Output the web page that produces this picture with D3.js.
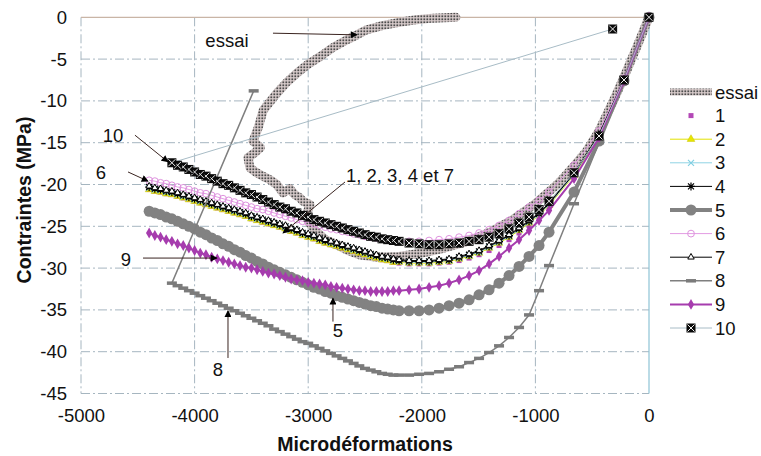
<!DOCTYPE html>
<html><head><meta charset="utf-8">
<script src="https://cdn.jsdelivr.net/npm/d3@7"></script>
<style>body{margin:0;background:#fff}svg{display:block;font-family:"Liberation Sans",Arial,Helvetica,sans-serif}</style>
</head><body><svg id="c" width="761" height="456"></svg>
<script>
// ---------- DATA ----------
const xTicks = [-5000,-4000,-3000,-2000,-1000,0];
const yTicks = [0,-5,-10,-15,-20,-25,-30,-35,-40,-45];

// shared strain sampling of the model curves (microdeformations)
const strain = [0,-220,-440,-660,-880,-968,-1056,-1144,-1232,-1320,-1408,-1496,-1584,-1672,-1760,-1848,-1936,-2024,-2112,-2200,
 -2250,-2300,-2350,-2400,-2450,-2500,-2550,-2600,-2650,-2700,-2750,-2800,-2850,-2900,-2950,-3000,-3050,-3100,-3150,-3200,
 -3250,-3300,-3350,-3400,-3450,-3500,-3550,-3600,-3650,-3700,-3750,-3800,-3850,-3900,-3950,-4000,-4050,-4100,-4150,-4200,
 -4250,-4300,-4350,-4400];

const s1 = [0,-7.6,-14.4,-19.1,-22.7,-23.9,-24.9,-25.8,-26.6,-27.3,-27.9,-28.4,-28.8,-29.1,-29.3,-29.4,-29.5,-29.5,-29.5,-29.4,
 -29.3,-29.1,-29.0,-28.8,-28.6,-28.4,-28.2,-28.0,-27.8,-27.6,-27.4,-27.2,-27.0,-26.8,-26.5,-26.3,-26.1,-25.8,-25.6,-25.3,
 -25.1,-24.9,-24.7,-24.5,-24.3,-24.1,-23.8,-23.6,-23.4,-23.2,-23.0,-22.8,-22.6,-22.4,-22.2,-22.0,-21.8,-21.6,-21.4,-21.2,
 -21.1,-20.9,-20.8,-20.6];
const s2 = [0,-7.6,-14.3,-18.9,-22.5,-23.7,-24.6,-25.5,-26.3,-27.0,-27.6,-28.2,-28.6,-28.9,-29.2,-29.3,-29.4,-29.4,-29.4,-29.3,
 -29.3,-29.1,-29.0,-28.8,-28.6,-28.4,-28.2,-28.0,-27.8,-27.6,-27.4,-27.2,-27.0,-26.8,-26.5,-26.3,-26.1,-25.8,-25.6,-25.3,
 -25.1,-24.9,-24.7,-24.5,-24.3,-24.1,-23.8,-23.6,-23.4,-23.2,-23.0,-22.8,-22.6,-22.4,-22.2,-22.0,-21.8,-21.6,-21.4,-21.2,
 -21.1,-20.9,-20.8,-20.6];
const s3 = [0,-7.5,-14.2,-18.8,-22.4,-23.6,-24.5,-25.4,-26.2,-26.9,-27.5,-28.1,-28.5,-28.8,-29.1,-29.2,-29.3,-29.3,-29.3,-29.2,
 -29.1,-28.9,-28.8,-28.6,-28.4,-28.2,-28.0,-27.8,-27.6,-27.4,-27.2,-27.0,-26.8,-26.6,-26.3,-26.1,-25.9,-25.6,-25.4,-25.1,
 -24.9,-24.7,-24.5,-24.3,-24.1,-23.9,-23.6,-23.4,-23.2,-23.0,-22.8,-22.6,-22.4,-22.2,-22.0,-21.8,-21.6,-21.4,-21.2,-21.0,
 -20.9,-20.7,-20.6,-20.4];
const s4 = [0,-7.5,-14.1,-18.7,-22.3,-23.5,-24.4,-25.3,-26.1,-26.8,-27.4,-28.0,-28.4,-28.7,-29.0,-29.1,-29.2,-29.2,-29.2,-29.1,
 -29.0,-28.8,-28.7,-28.5,-28.3,-28.1,-27.9,-27.7,-27.5,-27.3,-27.1,-26.9,-26.7,-26.5,-26.2,-26.0,-25.8,-25.5,-25.3,-25.0,
 -24.8,-24.6,-24.4,-24.2,-24.0,-23.8,-23.5,-23.3,-23.1,-22.9,-22.7,-22.5,-22.3,-22.1,-21.9,-21.7,-21.5,-21.3,-21.1,-20.9,
 -20.8,-20.6,-20.5,-20.3];
const s5 = [0,-7.6,-14.8,-20.9,-25.7,-27.3,-28.6,-29.8,-30.9,-31.8,-32.6,-33.2,-33.8,-34.2,-34.5,-34.8,-35.0,-35.1,-35.1,-35.1,
 -35.0,-34.9,-34.8,-34.6,-34.5,-34.3,-34.1,-33.9,-33.7,-33.5,-33.3,-33.0,-32.8,-32.5,-32.3,-32.0,-31.7,-31.4,-31.1,-30.8,
 -30.5,-30.2,-29.9,-29.5,-29.2,-28.8,-28.5,-28.1,-27.8,-27.4,-27.1,-26.7,-26.4,-26.0,-25.7,-25.3,-25.0,-24.7,-24.4,-24.1,
 -23.9,-23.6,-23.4,-23.2];
const s6 = [0,-7.3,-13.6,-17.7,-20.9,-21.9,-22.7,-23.5,-24.3,-24.9,-25.4,-25.8,-26.1,-26.3,-26.5,-26.6,-26.7,-26.8,-26.8,-26.8,
 -26.7,-26.6,-26.5,-26.4,-26.3,-26.2,-26.0,-25.9,-25.7,-25.6,-25.4,-25.3,-25.1,-24.9,-24.7,-24.5,-24.4,-24.2,-24.0,-23.8,
 -23.6,-23.4,-23.2,-23.0,-22.9,-22.7,-22.5,-22.3,-22.1,-21.9,-21.7,-21.5,-21.3,-21.1,-21.0,-20.8,-20.6,-20.4,-20.3,-20.1,
 -19.9,-19.8,-19.6,-19.5];
const s7 = [0,-7.4,-14.0,-18.6,-22.2,-23.4,-24.3,-25.2,-26.0,-26.7,-27.3,-27.9,-28.3,-28.6,-28.9,-29.0,-29.1,-29.1,-29.1,-29.0,
 -28.9,-28.7,-28.6,-28.4,-28.2,-28.0,-27.8,-27.6,-27.4,-27.2,-27.0,-26.8,-26.6,-26.4,-26.1,-25.9,-25.7,-25.4,-25.2,-24.9,
 -24.7,-24.5,-24.3,-24.1,-23.9,-23.7,-23.4,-23.2,-23.0,-22.8,-22.6,-22.4,-22.2,-22.0,-21.8,-21.6,-21.4,-21.2,-21.0,-20.8,
 -20.7,-20.5,-20.4,-20.2];
const s8 = [0,-7.7,-15.0,-22.3,-29.7,-32.7,-35.6,-37.1,-38.3,-39.3,-40.1,-40.8,-41.3,-41.8,-42.1,-42.4,-42.6,-42.7,-42.8,-42.8,
 -42.8,-42.7,-42.6,-42.4,-42.2,-42.0,-41.7,-41.4,-41.1,-40.8,-40.5,-40.2,-39.9,-39.6,-39.3,-39.0,-38.8,-38.5,-38.2,-37.9,
 -37.6,-37.3,-36.9,-36.6,-36.3,-36.0,-35.7,-35.4,-35.1,-34.8,-34.5,-34.2,-33.9,-33.6,-33.3,-33.0,-32.7,-32.4,-32.1,-31.8];
const s9 = [0,-7.6,-14.4,-19.3,-23.1,-24.3,-25.5,-26.6,-27.6,-28.6,-29.5,-30.3,-30.9,-31.4,-31.8,-32.1,-32.3,-32.5,-32.6,-32.7,
 -32.7,-32.8,-32.8,-32.8,-32.8,-32.7,-32.7,-32.6,-32.5,-32.4,-32.3,-32.2,-32.0,-31.9,-31.8,-31.7,-31.5,-31.4,-31.3,-31.1,
 -30.9,-30.7,-30.6,-30.4,-30.2,-30.0,-29.9,-29.7,-29.5,-29.3,-29.1,-28.9,-28.7,-28.4,-28.2,-27.9,-27.6,-27.3,-27.1,-26.8,
 -26.6,-26.3,-26.1,-25.8];
const s10 = [0,-7.5,-14.2,-18.6,-22.0,-23.0,-23.9,-24.6,-25.3,-25.9,-26.3,-26.6,-26.8,-27.0,-27.1,-27.2,-27.2,-27.1,-27.0,-26.8,
 -26.7,-26.6,-26.5,-26.3,-26.2,-26.0,-25.8,-25.6,-25.4,-25.2,-25.0,-24.8,-24.6,-24.4,-24.2,-23.9,-23.7,-23.4,-23.2,-22.9,
 -22.7,-22.4,-22.1,-21.8,-21.5,-21.2,-21.0,-20.7,-20.4,-20.1,-19.9,-19.6,-19.3,-19.0,-18.8,-18.5,-18.2,-17.9,-17.7,-17.4];
// last (stray) points appended at the end of series 8 and 10
const extra8 = [[-3480,-8.8]];
const extra10 = [[-320,-1.4]];

// experimental curve (essai), in recorded order
const essaiX = [0,-100,-200,-300,-440,-550,-660,-800,-1000,-1200,-1400,-1600,-1800,-2000,-2200,-2400,-2550,-2650,-2750,-2850,
 -2930,-2990,-3010,-2985,-3046,-3072,-3120,-3160,-3222,-3277,-3340,-3400,-3453,-3512,-3530,-3470,-3420,-3486,-3440,-3395,
 -3330,-3277,-3190,-3101,-3000,-2896,-2780,-2661,-2570,-2485,-2350,-2200,-2050,-1900,-1700];
const essaiY = [0,-3.3,-6.5,-9.6,-13.6,-16.0,-17.8,-19.9,-22.3,-24.2,-25.7,-26.8,-27.6,-28.2,-28.6,-28.7,-28.4,-27.9,-27.2,-26.6,
 -25.6,-24.6,-23.4,-22.4,-22.0,-21.6,-21.2,-20.5,-21.0,-20.0,-19.4,-19.0,-18.6,-18.0,-16.8,-16.2,-15.6,-14.8,-13.2,-11.1,
 -10.0,-9.1,-7.8,-6.7,-5.6,-4.7,-3.6,-2.7,-2.1,-1.5,-1.0,-0.6,-0.3,-0.1,0];

const legendNames = ["essai","1","2","3","4","5","6","7","8","9","10"];

// annotations: label, label position (data), arrow start, arrow end (data)
const notes = [
 {t:"essai", at:[-3715,-2.7], from:[-3310,-1.9], to:[-2570,-2.1]},
 {t:"10", at:[-4718,-14.1], from:[-4525,-14.1], to:[-4234,-17.3]},
 {t:"6", at:[-4824,-18.6], from:[-4586,-18.5], to:[-4410,-19.6]},
 {t:"1, 2, 3, 4 et 7", at:[-2192,-18.9], from:[-2676,-19.7], to:[-3222,-25.8]},
 {t:"9", at:[-4604,-28.9], from:[-4454,-28.8], to:[-3803,-28.8]},
 {t:"5", at:[-2738,-37.4], from:[-2782,-36.4], to:[-2782,-33.6]},
 {t:"8", at:[-3794,-42.1], from:[-3706,-40.75], to:[-3706,-35.1]}
];

// ---------- DRAW ----------
const FS = 18.5;
const svg = d3.select("#c");
const x = d3.scaleLinear().domain([-5000,0]).range([81,649]);
const y = d3.scaleLinear().domain([-45,0]).range([393.5,17.3]);

const defs = svg.append("defs");
const pat = defs.append("pattern").attr("id","stip").attr("patternUnits","userSpaceOnUse")
  .attr("width",3).attr("height",3);
pat.append("rect").attr("width",3).attr("height",3).attr("fill","#dccfcf");
pat.append("rect").attr("x",0.4).attr("y",0.4).attr("width",1.8).attr("height",1.8).attr("fill","#4c4c4c");
defs.append("marker").attr("id","ah").attr("viewBox","0 0 10 10").attr("refX",9).attr("refY",5)
  .attr("markerWidth",8).attr("markerHeight",7).attr("orient","auto").attr("markerUnits","userSpaceOnUse")
  .append("path").attr("d","M0,0L10,5L0,10z").attr("fill","#000");

// grid
const grid = svg.append("g");
yTicks.filter(v=>v!==0).forEach(v=>{
  grid.append("line").attr("x1",x(-5000)).attr("x2",x(0)).attr("y1",y(v)).attr("y2",y(v))
    .attr("stroke","#a6b6c0").attr("stroke-width",1).attr("stroke-dasharray","9,3,2,3");
});
xTicks.filter(v=>v!==0).forEach(v=>{
  grid.append("line").attr("x1",x(v)).attr("x2",x(v)).attr("y1",y(0)).attr("y2",y(-45))
    .attr("stroke","#a6b6c0").attr("stroke-width",1).attr("stroke-dasharray","9,3,2,3");
});
// axis lines (x axis crosses at 0 on top, y axis at 0 on right)
svg.append("line").attr("x1",x(-5000)).attr("x2",x(0)).attr("y1",y(0)).attr("y2",y(0))
  .attr("stroke","#c9b5a6").attr("stroke-width",1.2);
svg.append("line").attr("x1",x(0)).attr("x2",x(0)).attr("y1",y(0)).attr("y2",y(-45))
  .attr("stroke","#8ec3d6").attr("stroke-width",1.2);

// tick labels
const ax = svg.append("g").attr("transform",`translate(0,${y(-45)})`)
  .call(d3.axisBottom(x).tickValues(xTicks).tickSize(0).tickPadding(15).tickFormat(d=>String(d)));
const ay = svg.append("g").attr("transform",`translate(${x(-5000)},0)`)
  .call(d3.axisLeft(y).tickValues(yTicks).tickSize(0).tickPadding(14).tickFormat(d=>String(d)));
[ax,ay].forEach(a=>{a.select(".domain").remove();
  a.selectAll("text").attr("font-size",FS).attr("fill","#111").attr("font-family",'"Liberation Sans",Arial,sans-serif');});

svg.append("text").attr("x",365).attr("y",451).attr("text-anchor","middle")
  .attr("font-size",19.5).attr("font-weight","bold").attr("fill","#111").text("Microdéformations");
svg.append("text").attr("transform","translate(31,200) rotate(-90)").attr("text-anchor","middle")
  .attr("font-size",19.5).attr("font-weight","bold").attr("fill","#111").text("Contraintes (MPa)");

// marker drawing
function marker(g, type, px, py){
  switch(type){
    case "sq": g.append("rect").attr("x",px-2.5).attr("y",py-2.5).attr("width",5).attr("height",5).attr("fill","#b348b6"); break;
    case "tri": g.append("path").attr("transform",`translate(${px},${py})`).attr("d",d3.symbol(d3.symbolTriangle,26)())
        .attr("fill","#e8e600").attr("stroke","#c8c400").attr("stroke-width",0.5); break;
    case "x": g.append("path").attr("d",`M${px-3},${py-3}L${px+3},${py+3}M${px-3},${py+3}L${px+3},${py-3}`)
        .attr("stroke","#80cfe2").attr("stroke-width",1.2); break;
    case "star": g.append("path").attr("d",`M${px-4},${py}L${px+4},${py}M${px},${py-4}L${px},${py+4}M${px-3},${py-3}L${px+3},${py+3}M${px-3},${py+3}L${px+3},${py-3}`)
        .attr("stroke","#000").attr("stroke-width",1.2); break;
    case "circ": g.append("circle").attr("cx",px).attr("cy",py).attr("r",5.5).attr("fill","#828282"); break;
    case "ocirc": g.append("circle").attr("cx",px).attr("cy",py).attr("r",3.4).attr("fill","none")
        .attr("stroke","#de92de").attr("stroke-width",1); break;
    case "otri": g.append("path").attr("transform",`translate(${px},${py})`).attr("d",d3.symbol(d3.symbolTriangle,18)())
        .attr("fill","#fff").attr("stroke","#000").attr("stroke-width",1); break;
    case "dash": g.append("rect").attr("x",px-5).attr("y",py-1.75).attr("width",10).attr("height",3.5).attr("fill","#7b7b7b"); break;
    case "dot": g.append("path").attr("transform",`translate(${px},${py})`).attr("d",d3.symbol(d3.symbolDiamond,34)())
        .attr("fill","#a63cae"); break;
    case "sqx": g.append("rect").attr("x",px-4.5).attr("y",py-4.5).attr("width",9).attr("height",9).attr("fill","#0a0a0a");
        g.append("path").attr("d",`M${px-3.5},${py-3.5}L${px+3.5},${py+3.5}M${px-3.5},${py+3.5}L${px+3.5},${py-3.5}`)
        .attr("stroke","#eee").attr("stroke-width",1); break;
  }
}

const series = [
 {vals:s1, extra:[], color:null, w:0, m:"sq"},
 {vals:s2, extra:[], color:"#e3e100", w:1, m:"tri"},
 {vals:s3, extra:[], color:"#8fd3e4", w:1, m:"x"},
 {vals:s4, extra:[], color:"#000", w:1, m:"star"},
 {vals:s5, extra:[], color:"#828282", w:4, m:"circ"},
 {vals:s6, extra:[], color:"#e39be3", w:1, m:"ocirc"},
 {vals:s7, extra:[], color:"#000", w:1, m:"otri"},
 {vals:s8, extra:extra8, color:"#7f7f7f", w:1.5, m:"dash"},
 {vals:s9, extra:[], color:"#a63cae", w:2, m:"dot"},
 {vals:s10, extra:extra10, color:"#a8bcc6", w:1, m:"sqx"}
];

const line = d3.line().x(d=>x(d[0])).y(d=>y(d[1]));

// essai (drawn first)
const essaiPts = essaiX.map((v,i)=>[v,essaiY[i]]);
svg.append("path").attr("d",line(essaiPts)).attr("fill","none").attr("stroke","url(#stip)")
  .attr("stroke-width",9).attr("stroke-linejoin","round").attr("stroke-linecap","round");

series.forEach(s=>{
  const pts = s.vals.map((v,i)=>[strain[i],v]).concat(s.extra);
  const g = svg.append("g");
  if(s.w>0) g.append("path").attr("d",line(pts)).attr("fill","none").attr("stroke",s.color)
     .attr("stroke-width",s.w).attr("stroke-linejoin","round");
  pts.forEach(p=>marker(g,s.m,x(p[0]),y(p[1])));
});

// annotations
const an = svg.append("g");
notes.forEach(n=>{
  an.append("line").attr("x1",x(n.from[0])).attr("y1",y(n.from[1])).attr("x2",x(n.to[0])).attr("y2",y(n.to[1]))
    .attr("stroke","#3a2420").attr("stroke-width",1).attr("marker-end","url(#ah)");
  an.append("text").attr("x",x(n.at[0])).attr("y",y(n.at[1])).attr("dy","0.36em").attr("text-anchor","middle")
    .attr("font-size",FS).attr("fill","#111").text(n.t);
});

// legend
const lg = svg.append("g");
legendNames.forEach((name,i)=>{
  const ly = 92 + i*23.6;
  if(i===0){
    lg.append("rect").attr("x",670).attr("y",ly-3.5).attr("width",42).attr("height",7).attr("fill","url(#stip)");
  } else {
    const s = series[i-1];
    if(s.w>0) lg.append("line").attr("x1",670).attr("x2",712).attr("y1",ly).attr("y2",ly)
       .attr("stroke",s.color).attr("stroke-width",s.w);
    marker(lg,s.m,691,ly);
  }
  lg.append("text").attr("x",715).attr("y",ly).attr("dy","0.36em").attr("font-size",FS).attr("fill","#111").text(name);
});
</script></body></html>
